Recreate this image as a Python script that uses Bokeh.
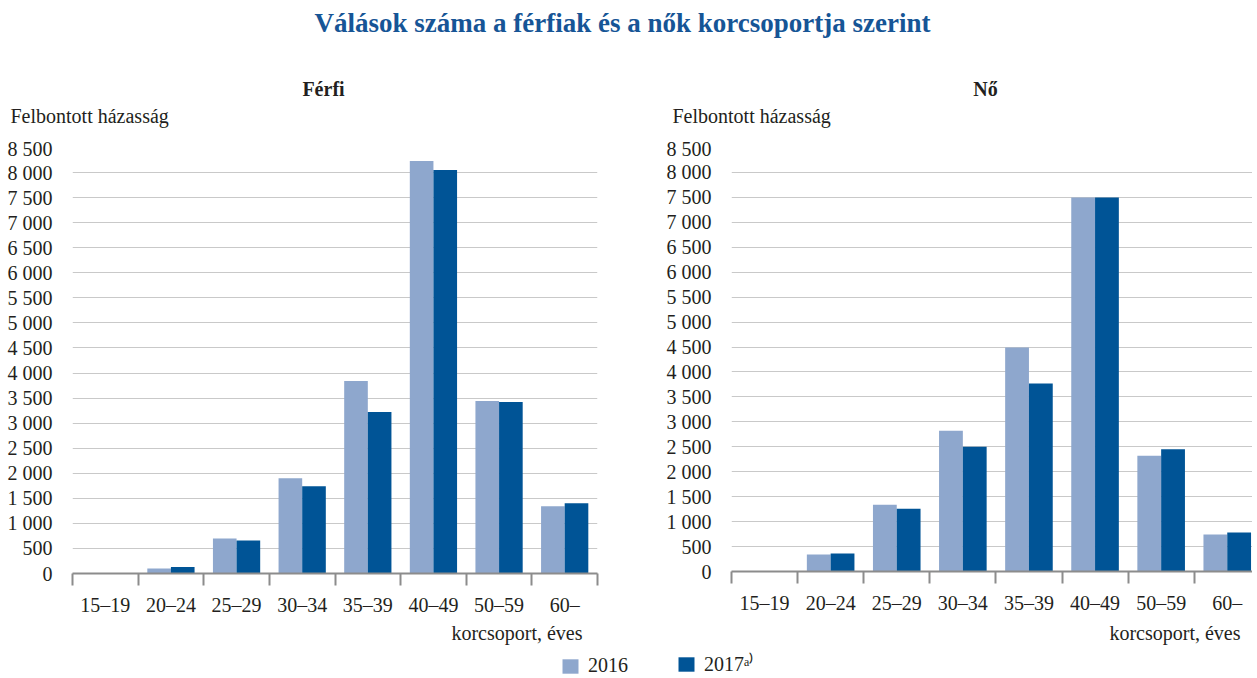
from bokeh.plotting import figure
from bokeh.models import ColumnDataSource, FixedTicker, Label, Legend, LegendItem
from bokeh.layouts import column, row
from bokeh.embed import file_html
from bokeh.resources import INLINE

# ---------------- data ----------------
categories = ["15–19", "20–24", "25–29", "30–34", "35–39", "40–49", "50–59", "60–"]
men_2016 = [0, 100, 700, 1900, 3840, 8230, 3440, 1340]
men_2017 = [0, 130, 660, 1740, 3220, 8050, 3420, 1400]
women_2016 = [0, 340, 1340, 2820, 4490, 7500, 2320, 740]
women_2017 = [0, 360, 1260, 2500, 3770, 7500, 2450, 780]
y_ticks = [0, 500, 1000, 1500, 2000, 2500, 3000, 3500, 4000, 4500,
           5000, 5500, 6000, 6500, 7000, 7500, 8000, 8500]
y_tick_labels = ["0", "500", "1 000", "1 500", "2 000", "2 500", "3 000", "3 500",
                 "4 000", "4 500", "5 000", "5 500", "6 000", "6 500", "7 000",
                 "7 500", "8 000", "8 500"]
series_names = ["2016", "2017ᵃ⁾"]
panel_titles = ["Férfi", "Nő"]
main_title = "Válások száma a férfiak és a nők korcsoportja szerint"
y_title = "Felbontott házasság"
x_title = "korcsoport, éves"

# ---------------- style ----------------
FONT = "Liberation Serif"
C16 = "#8ea7cd"
C17 = "#005496"
TXT = "#231f20"
TITLE_C = "#165596"
GRID_C = "#c9c9c9"
AXIS_C = "#8c8c8c"
FS = "20px"
W = 1252

centers = [i + 0.5 for i in range(len(categories))]
BW = 0.36


def make_panel(v16, v17, frame_w, frame_h, x_end, b_left, b_right, b_top, b_bottom):
    src = ColumnDataSource(dict(
        x16=[c - BW / 2 for c in centers],
        x17=[c + BW / 2 for c in centers],
        v16=v16, v17=v17))
    p = figure(frame_width=frame_w, frame_height=frame_h,
               x_range=(0, x_end), y_range=(0, 8500),
               output_backend="svg", toolbar_location=None,
               min_border_left=b_left, min_border_right=b_right,
               min_border_top=b_top, min_border_bottom=b_bottom,
               outline_line_color=None, background_fill_color="white",
               border_fill_color="white")
    p.vbar(x="x16", top="v16", width=BW, source=src, fill_color=C16, line_color=None)
    p.vbar(x="x17", top="v17", width=BW, source=src, fill_color=C17, line_color=None)

    xa = p.xaxis[0]
    xa.ticker = FixedTicker(ticks=centers, minor_ticks=list(range(len(categories) + 1)))
    xa.major_label_overrides = {c: lab for c, lab in zip(centers, categories)}
    xa.major_tick_out = 0
    xa.major_tick_in = 0
    xa.minor_tick_out = 12
    xa.minor_tick_in = 0
    xa.minor_tick_line_color = AXIS_C
    xa.minor_tick_line_width = 2
    xa.axis_line_color = AXIS_C
    xa.axis_line_width = 2
    xa.major_label_standoff = 8
    xa.major_label_text_font = FONT
    xa.major_label_text_font_size = FS
    xa.major_label_text_color = TXT

    ya = p.yaxis[0]
    ya.ticker = FixedTicker(ticks=y_ticks, minor_ticks=[])
    ya.major_label_overrides = {t: lab for t, lab in zip(y_ticks, y_tick_labels)}
    ya.axis_line_color = None
    ya.major_tick_line_color = None
    ya.minor_tick_line_color = None
    ya.major_label_standoff = 14
    ya.major_label_text_font = FONT
    ya.major_label_text_font_size = FS
    ya.major_label_text_color = TXT

    p.xgrid.visible = False
    p.ygrid.ticker = FixedTicker(ticks=y_ticks)
    p.ygrid.grid_line_color = GRID_C
    p.ygrid.grid_line_width = 1.2
    return p


def blank(w, h):
    f = figure(width=w, height=h, x_range=(0, 1), y_range=(0, 1),
               x_axis_type=None, y_axis_type=None,
               output_backend="svg", toolbar_location=None, min_border=0,
               outline_line_color=None)
    f.grid.visible = False
    return f


def text(fig, x, y_from_top, s, size=FS, align="left", bold=False, color=TXT):
    fig.add_layout(Label(x=x, y=fig.height - y_from_top, x_units="screen", y_units="screen",
                         text=s, text_align=align, text_baseline="middle",
                         text_font=FONT, text_font_size=size,
                         text_font_style="bold" if bold else "normal",
                         text_color=color))


# header: main title, panel titles, y-axis titles
TOP_H = 137
top_fig = blank(W, TOP_H)
text(top_fig, 622, 22, main_title, size="27px", align="center", bold=True, color=TITLE_C)
text(top_fig, 323, 88, panel_titles[0], align="center", bold=True)
text(top_fig, 985, 88, panel_titles[1], align="center", bold=True)
text(top_fig, 10, 115, y_title)
text(top_fig, 672, 115, y_title)

# panels (page y 137 .. 616)
p1 = make_panel(men_2016, men_2017, 525, 426, 8.0, 72, 63, 10, 43)
p2 = make_panel(women_2016, women_2017, 521, 424, 521 / 66.1, 71, 0, 10, 45)

# footer: x-axis titles and legend
BOT_H = 60
bot_fig = blank(W, BOT_H)
text(bot_fig, 582, 14, x_title, align="right")
text(bot_fig, 1240, 14, x_title, align="right")
r16 = bot_fig.vbar(x=[0.5], top=[1], width=0.1, fill_color=C16, line_color=None, visible=False)
r17 = bot_fig.vbar(x=[0.5], top=[1], width=0.1, fill_color=C17, line_color=None, visible=False)
for r, name, lx in [(r16, series_names[0], 560), (r17, series_names[1], 676)]:
    lg = Legend(items=[LegendItem(label=name, renderers=[r])], location=(lx, 1),
                orientation="horizontal", padding=0, margin=0, border_line_color=None,
                background_fill_alpha=0, glyph_width=20, glyph_height=18,
                label_standoff=8, label_text_font=FONT, label_text_font_size=FS,
                label_text_color=TXT, label_height=18, click_policy="none")
    bot_fig.add_layout(lg, "center")

layout = column(top_fig, row(p1, p2), bot_fig)

open("out.html", "w").write(file_html(layout, INLINE))
